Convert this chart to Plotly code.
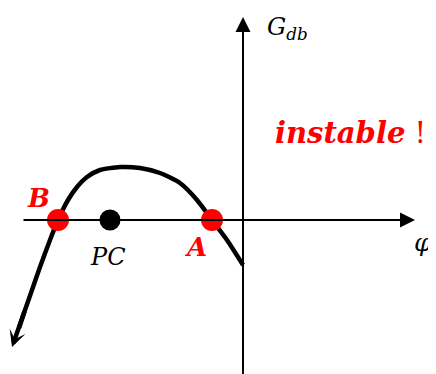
import plotly.graph_objects as go

# Axis extents (data units, origin at axes crossing)
phi_min, phi_max = -221, 172
g_min, g_max = -170, 203
# view window (the page adds an 8px body margin, so the window is offset by 8 units)
x_range = [-235, 201]
y_range = [-162, 212]

# Curve G_db(phi), ordered from the end near the G axis to the arrow end
curve_phi = [0, -16, -31, -46, -63, -83, -103, -123, -143, -156, -166, -175, -185,
             -193, -203, -211, -218, -224]
curve_g = [-45, -20, 0, 20, 37, 47, 52, 53, 50, 43, 33, 20, 0,
           -20, -47, -70, -90, -108]
arrow_tip = (-231, -127)

# Special points
crossing_names = ["B", "A"]
crossing_phi = [-185, -31]
crossing_g = [0, 0]
pc_phi = [-133]
pc_g = [0]

serif = "DejaVu Serif"

fig = go.Figure()
fig.add_trace(go.Scatter(x=curve_phi, y=curve_g, mode="lines",
                         line=dict(color="black", width=4.5, shape="spline", smoothing=0.6),
                         hoverinfo="skip"))
fig.add_trace(go.Scatter(x=pc_phi, y=pc_g, mode="markers",
                         marker=dict(color="black", size=21), hoverinfo="skip"))
fig.add_trace(go.Scatter(x=crossing_phi, y=crossing_g, mode="markers",
                         marker=dict(color="#ff0000", size=22), hoverinfo="skip"))

ann = []
# horizontal axis with arrow
ann.append(dict(x=phi_max, y=0, ax=phi_min, ay=0, xref="x", yref="y", axref="x", ayref="y",
                showarrow=True, arrowhead=2, arrowsize=1.5, arrowwidth=2, arrowcolor="black",
                standoff=0, startstandoff=0, text=""))
# vertical axis with arrow
ann.append(dict(x=0, y=g_max, ax=0, ay=g_min, xref="x", yref="y", axref="x", ayref="y",
                showarrow=True, arrowhead=2, arrowsize=1.5, arrowwidth=2, arrowcolor="black",
                standoff=0, startstandoff=0, text=""))
# curve arrow
ann.append(dict(x=arrow_tip[0], y=arrow_tip[1], ax=curve_phi[-2], ay=curve_g[-2],
                xref="x", yref="y", axref="x", ayref="y",
                showarrow=True, arrowhead=3, arrowsize=0.62, arrowwidth=4.5, arrowcolor="black",
                standoff=0, startstandoff=0, text=""))

ann.append(dict(x=22, y=192, xref="x", yref="y", xanchor="left", yanchor="middle", showarrow=False,
                text="<i>G</i><sub><i>db</i></sub>", font=dict(family=serif, size=24, color="black")))
ann.append(dict(x=180, y=-22, xref="x", yref="y", showarrow=False,
                text="<i>φ</i>", font=dict(family=serif, size=25, color="black")))
ann.append(dict(x=30, y=87, xref="x", yref="y", xanchor="left", showarrow=False,
                text="<b><i>instable</i></b> !", font=dict(family=serif, size=29, color="#ff0000")))
ann.append(dict(x=-205, y=22, xref="x", yref="y", showarrow=False,
                text="<b><i>B</i></b>", font=dict(family=serif, size=26, color="#ff0000")))
ann.append(dict(x=-48, y=-27, xref="x", yref="y", showarrow=False,
                text="<b><i>A</i></b>", font=dict(family=serif, size=26, color="#ff0000")))
ann.append(dict(x=-135, y=-37, xref="x", yref="y", showarrow=False,
                text="<i>PC</i>", font=dict(family=serif, size=24, color="black")))

fig.update_layout(
    width=436, height=374,
    margin=dict(l=0, r=0, t=0, b=0),
    paper_bgcolor="white", plot_bgcolor="white",
    showlegend=False,
    xaxis=dict(range=x_range, visible=False, fixedrange=True),
    yaxis=dict(range=y_range, visible=False, fixedrange=True),
    annotations=ann,
)

fig.write_html("out.html", config={"displayModeBar": False})
